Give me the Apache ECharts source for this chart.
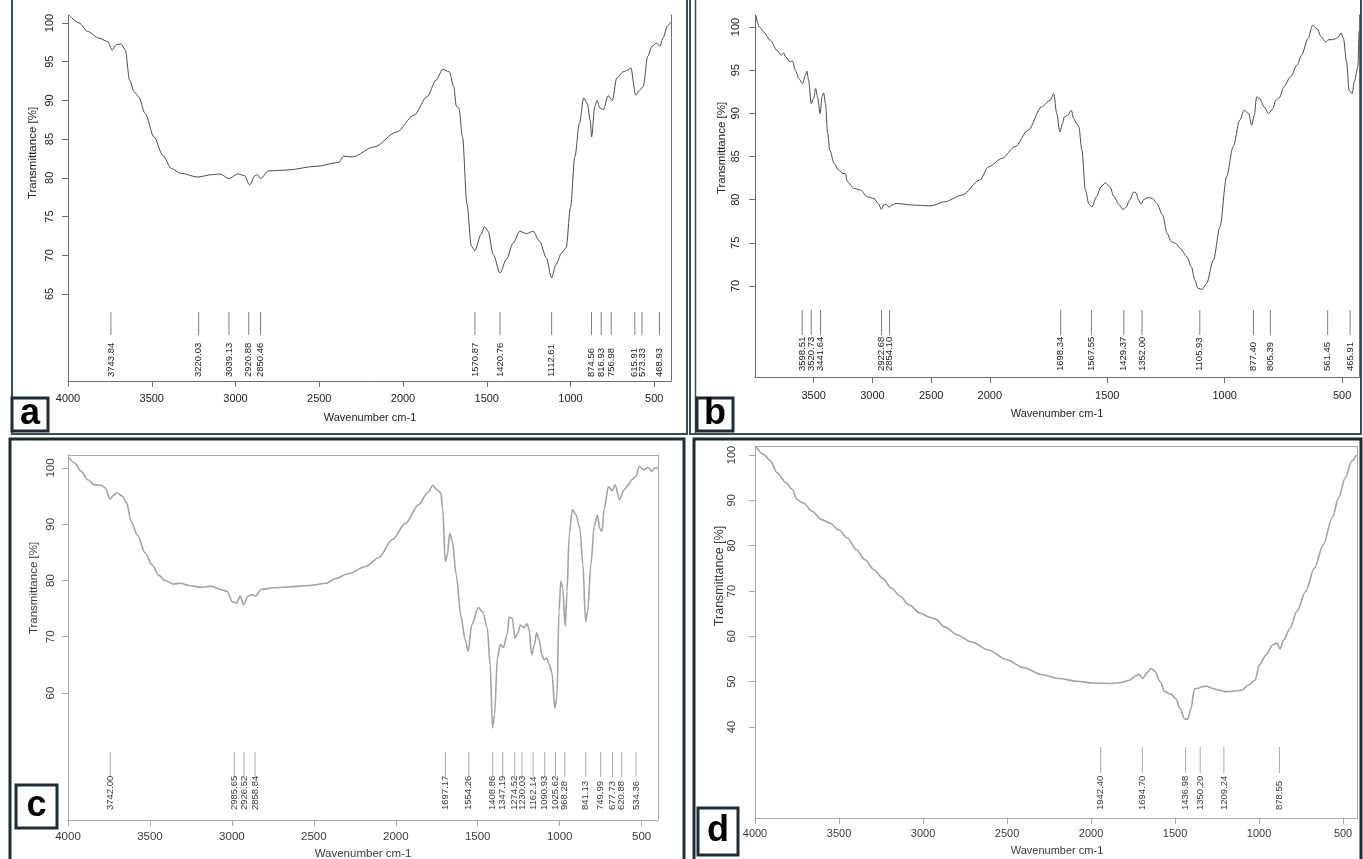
<!doctype html>
<html>
<head>
  <meta charset="UTF-8" />
  <title>FTIR spectra a-d</title>
  <script src="https://cdn.jsdelivr.net/npm/echarts@6/dist/echarts.min.js"></script>
  <style>
    html, body { margin: 0; padding: 0; background: #fff; }
    #chart { width: 1363px; height: 859px; }
  </style>
</head>
<body>
  <div id="chart"></div>
  <script>
    // ---- panel a ----
    const aWave = [3992,3934,3882,3816,3763,3737,3711,3684,3658,3632,3605,3579,3539,3487,3434,3382,3329,3224,3145,3092,3039,2987,2947,2916,2882,2868,2850,2803,2697,2513,2382,2355,2303,2171,2039,1934,1855,1803,1763,1724,1697,1682,1666,1645,1618,1592,1571,1534,1513,1492,1461,1421,1382,1342,1303,1263,1224,1184,1145,1113,1087,1053,1026,1000,974,947,921,900,882,874,855,842,824,803,776,750,724,684,658,640,611,587,566,539,513,487,466,447,421,403];
    const aTrans = [101.0,100.0,98.9,98.05,97.6,96.5,97.2,97.3,96.5,92.6,91.1,90.5,88.3,85.3,82.9,81.2,80.6,80.1,80.4,80.5,79.9,80.5,80.3,79.1,80.3,80.4,79.9,80.9,81.0,81.5,82.0,82.8,82.7,84.0,85.9,88.1,90.5,92.6,94.0,93.7,91.8,89.3,89.0,85.3,76.6,71.2,70.6,72.7,73.7,73.1,70.1,67.7,69.5,71.6,73.1,72.8,73.1,71.8,69.7,67.1,68.8,70.3,71.0,76.2,82.7,87.0,90.3,89.6,87.4,85.3,89.2,90.0,89.0,88.8,90.6,90.0,92.9,93.7,93.9,94.2,90.7,91.3,91.8,95.7,97.0,97.4,97.0,98.1,99.6,100.1];
    const aPeaks = [3743.84,3220.03,3039.13,2920.88,2850.46,1570.87,1420.76,1112.61,874.56,816.93,756.98,615.91,573.33,468.93];
    const aXTicks = [4000,3500,3000,2500,2000,1500,1000,500];
    const aYTicks = [65,70,75,80,85,90,95,100];

    // ---- panel b (scale halves above 2000 cm-1) ----
    const bWave = [3993,3963,3926,3869,3813,3776,3757,3738,3701,3682,3656,3626,3596,3570,3559,3543,3521,3502,3483,3468,3445,3430,3415,3400,3381,3363,3325,3288,3250,3231,3213,3156,3100,3044,2987,2950,2923,2905,2882,2856,2837,2800,2649,2499,2387,2237,2086,2011,1949,1893,1837,1780,1743,1728,1715,1702,1690,1683,1668,1653,1643,1630,1621,1608,1593,1578,1565,1546,1527,1508,1489,1471,1452,1433,1420,1405,1386,1377,1367,1356,1345,1326,1307,1289,1264,1245,1227,1208,1189,1161,1142,1127,1114,1095,1077,1048,1020,992,964,936,917,898,885,874,864,851,832,813,795,782,767,748,720,692,673,645,626,607,588,570,556,541,528,517,504,494,481,470,457,448,433,428];
    const bTrans = [101.35,100.0,99.42,98.46,97.30,96.72,96.99,96.53,95.95,96.07,94.99,94.02,93.44,94.41,94.91,93.83,91.13,91.71,92.87,91.90,89.97,91.90,92.36,91.13,87.66,85.73,84.19,83.42,83.03,83.03,82.07,81.30,81.10,80.33,80.14,79.56,78.87,79.37,79.48,79.10,79.37,79.56,79.37,79.29,79.75,80.52,82.26,83.80,84.77,86.12,88.04,90.74,91.52,92.29,89.97,87.85,88.82,89.59,89.78,90.36,89.39,88.82,88.43,85.73,81.10,79.48,79.17,80.33,81.49,81.95,81.49,80.33,79.48,78.87,79.10,79.95,80.91,80.79,79.95,79.48,80.02,80.25,80.14,79.56,78.21,76.09,75.13,74.93,74.35,73.39,72.23,70.69,69.73,69.61,70.30,73.00,76.86,82.65,86.12,89.20,90.36,89.97,88.62,89.78,91.90,91.71,90.74,89.97,90.55,91.52,91.82,93.06,94.22,95.57,96.72,98.65,100.19,99.81,98.84,98.26,98.53,98.53,98.65,98.84,99.31,98.65,95.95,92.67,92.29,93.64,95.37,99.5];
    const bPeaks = [3598.51,3520.73,3441.64,2922.68,2854.10,1698.34,1567.55,1429.37,1352.00,1105.93,877.40,805.39,561.45,465.91];
    const bXTicks = [3500,3000,2500,2000,1500,1000,500];
    const bYTicks = [70,75,80,85,90,95,100];

    // ---- panel c ----
    const cWave = [3992,3960,3919,3879,3838,3793,3771,3744,3723,3701,3669,3642,3615,3577,3529,3488,3448,3408,3362,3313,3260,3192,3125,3071,3031,2996,2972,2950,2928,2902,2877,2856,2823,2748,2640,2533,2425,2371,2290,2183,2102,2021,1940,1860,1806,1774,1747,1725,1714,1698,1685,1671,1655,1631,1604,1577,1558,1537,1496,1469,1442,1424,1410,1397,1380,1362,1343,1321,1308,1289,1273,1254,1240,1219,1200,1187,1171,1154,1141,1125,1109,1095,1079,1063,1047,1030,1017,1004,993,982,966,955,942,923,901,877,858,842,829,810,788,769,756,742,729,702,680,662,635,608,581,560,535,514,487,460,438,420,401];
    const cTrans = [101.8,100.9,99.4,97.9,97.0,96.9,96.4,94.5,95.1,95.6,95.0,93.8,90.5,88.1,84.9,82.8,81.0,80.0,79.4,79.5,79.1,78.8,79.0,78.4,78.1,76.2,76.0,77.2,75.7,77.2,77.5,77.2,78.4,78.7,78.9,79.1,79.5,80.3,81.2,82.5,84.1,87.3,90.2,93.5,95.6,96.9,96.1,95.6,92.9,83.4,84.6,88.4,87.0,81.0,73.9,69.5,67.4,72.1,75.2,74.4,71.6,65.0,53.8,56.1,66.2,68.6,68.1,70.4,73.5,73.3,69.8,70.7,72.1,71.6,72.3,71.4,66.8,68.6,70.7,69.5,66.8,65.9,66.2,65.0,63.6,57.3,59.1,74.5,79.9,78.7,71.9,78.1,88.1,92.6,91.7,89.3,82.8,72.7,74.5,82.8,89.9,91.6,89.3,88.7,92.6,96.7,96.0,97.0,94.4,96.1,97.0,97.9,98.5,100.3,99.7,100.1,99.4,100.0,100.0];
    const cPeaks = [3742.00,2985.65,2926.52,2858.84,1697.17,1554.26,1408.86,1347.19,1274.52,1230.03,1162.14,1090.93,1025.62,968.28,841.13,749.99,677.73,620.88,534.36];
    const cXTicks = [4000,3500,3000,2500,2000,1500,1000,500];
    const cYTicks = [60,70,80,90,100];

    // ---- panel d ----
    const dWave = [3995,3948,3908,3869,3816,3777,3751,3712,3659,3607,3554,3502,3449,3397,3345,3292,3240,3187,3135,3082,3017,2951,2925,2873,2794,2715,2610,2506,2401,2296,2191,2086,1981,1876,1824,1772,1732,1714,1693,1667,1641,1620,1588,1562,1523,1496,1470,1444,1425,1405,1384,1365,1339,1313,1274,1234,1200,1155,1103,1064,1024,998,958,919,893,875,854,815,775,723,670,618,565,526,487,447,421];
    const dTrans = [101.9,100.1,98.7,96.1,93.9,92.4,90.2,89.4,87.6,85.8,85.0,83.5,81.7,79.1,76.9,74.7,72.8,70.6,68.8,66.9,65.1,64.1,63.8,62.1,60.3,58.8,57.0,54.9,53.1,51.6,50.7,50.1,49.7,49.6,49.8,50.3,51.3,51.6,50.7,52.0,52.9,52.3,50.0,47.8,47.2,46.3,44.1,41.8,41.7,44.1,48.5,48.5,48.9,49.0,48.5,48.1,47.8,47.9,48.1,49.2,50.3,53.7,55.9,58.1,58.5,57.2,59.2,61.8,65.5,69.9,75.1,80.2,86.1,90.6,95.0,98.7,100.0];
    const dPeaks = [1942.40,1694.70,1436.98,1350.20,1209.24,878.55];
    const dXTicks = [4000,3500,3000,2500,2000,1500,1000,500];
    const dYTicks = [40,50,60,70,80,90,100];

    const FONT = '"Liberation Sans", Arial, Helvetica, sans-serif';
    const same = w => w;
    // panel b axis: 4000-2000 drawn at half the scale of 2000-400
    const bx = w => (w > 2000 ? 2000 + (w - 2000) / 2 : w);
    const bxInv = x => (x > 2000 ? 2000 + (x - 2000) * 2 : x);

    const dark = { curve: '#4a4a4a', curveW: 1, axis: '#6e6e6e', text: '#222', peak: '#808080' };
    const light = { curve: '#a3a3a3', curveW: 1.6, axis: '#a8a8a8', text: '#3a3a3a', peak: '#ababab' };

    const panels = [
      { wave: aWave, trans: aTrans, peaks: aPeaks, xTicks: aXTicks, yTicks: aYTicks, xf: same, xInv: same,
        grid: { left: 68, top: 15, width: 603, height: 366 }, xMin: 400, xMax: 4000, yMin: 53.76, yMax: 101.03,
        topLine: false, st: dark, fs: 11, xMargin: 12, yMargin: 13, mark: { top: 69, bottom: 46, label: 4 } },
      { wave: bWave, trans: bTrans, peaks: bPeaks, xTicks: bXTicks, yTicks: bYTicks, xf: bx, xInv: bxInv,
        grid: { left: 755, top: 15, width: 604, height: 362 }, xMin: 428, xMax: 3000, yMin: 59.46, yMax: 101.39,
        topLine: false, st: dark, fs: 11, xMargin: 13, yMargin: 14, mark: { top: 67, bottom: 42, label: 6 } },
      { wave: cWave, trans: cTrans, peaks: cPeaks, xTicks: cXTicks, yTicks: cYTicks, xf: same, xInv: same,
        grid: { left: 68, top: 455, width: 590, height: 365 }, xMin: 400, xMax: 4000, yMin: 37.42, yMax: 102.31,
        topLine: true, st: light, fs: 11.5, xMargin: 11, yMargin: 11, mark: { top: 68, bottom: 43, label: 10 } },
      { wave: dWave, trans: dTrans, peaks: dPeaks, xTicks: dXTicks, yTicks: dYTicks, xf: same, xInv: same,
        grid: { left: 755, top: 446, width: 602, height: 372 }, xMin: 417, xMax: 4000, yMin: 19.93, yMax: 101.99,
        topLine: true, st: light, fs: 11, xMargin: 10, yMargin: 18, mark: { top: 71, bottom: 45, label: 8 } }
    ];

    const grids = [], xAxes = [], yAxes = [], series = [];
    panels.forEach((p, i) => {
      const st = p.st;
      const line = { color: st.axis, width: 1 };
      grids.push(p.grid);
      const xt = p.xTicks.map(p.xf);
      xAxes.push({
        gridIndex: i, type: 'value', inverse: true, position: 'bottom', min: p.xMin, max: p.xMax,
        axisLine: { show: true, onZero: false, lineStyle: line },
        axisTick: { show: true, length: 6, customValues: xt, lineStyle: line },
        axisLabel: { customValues: xt, margin: p.xMargin, fontSize: p.fs, color: st.text, fontFamily: FONT,
          formatter: v => String(Math.round(p.xInv(v))) },
        splitLine: { show: false }
      });
      xAxes.push({
        gridIndex: i, type: 'value', position: 'top', min: 0, max: 1,
        axisLine: { show: p.topLine, onZero: false, lineStyle: line },
        axisTick: { show: false }, axisLabel: { show: false }, splitLine: { show: false }
      });
      yAxes.push({
        gridIndex: i, type: 'value', position: 'left', min: p.yMin, max: p.yMax,
        axisLine: { show: true, onZero: false, lineStyle: line },
        axisTick: { show: true, length: 6, customValues: p.yTicks, lineStyle: line },
        axisLabel: { customValues: p.yTicks, rotate: 90, margin: p.yMargin, fontSize: p.fs, color: st.text, fontFamily: FONT },
        splitLine: { show: false }
      });
      yAxes.push({
        gridIndex: i, type: 'value', position: 'right', min: 0, max: 1,
        axisLine: { show: true, onZero: false, lineStyle: line },
        axisTick: { show: false }, axisLabel: { show: false }, splitLine: { show: false }
      });

      series.push({
        type: 'line', xAxisIndex: 2 * i, yAxisIndex: 2 * i,
        data: p.wave.map((w, k) => [p.xf(w), p.trans[k]]),
        showSymbol: false, smooth: 0.3, smoothMonotone: 'x', silent: true,
        lineStyle: { color: st.curve, width: st.curveW }
      });

      // peak marker ticks with rotated wavenumber labels
      series.push({
        type: 'custom', xAxisIndex: 2 * i, yAxisIndex: 2 * i, clip: false, silent: true,
        data: p.peaks.map(w => [p.xf(w), p.yMin]),
        encode: { x: 0, y: 1 },
        renderItem: (params, api) => {
          const pt = api.coord([api.value(0), p.yMin]);
          return {
            type: 'group',
            children: [
              { type: 'line', shape: { x1: pt[0], y1: pt[1] - p.mark.top, x2: pt[0], y2: pt[1] - p.mark.bottom },
                style: { stroke: st.peak, lineWidth: 1 } },
              { type: 'text', x: pt[0], y: pt[1] - p.mark.label, rotation: Math.PI / 2,
                style: { text: p.peaks[params.dataIndex].toFixed(2), fontSize: 9.5, fontFamily: FONT,
                  fill: st.text, align: 'left', verticalAlign: 'middle' } }
            ]
          };
        }
      });
    });

    const FRAME = '#1d2c37';
    function title(x, y, text, rot, fs, color) {
      return { type: 'text', x: x, y: y, rotation: rot ? Math.PI / 2 : 0, z: 50,
        style: { text: text, fontSize: fs, fontFamily: FONT, fill: color, align: 'center', verticalAlign: 'middle' } };
    }
    function frame(x, y, w, h, lw, color) {
      return { type: 'rect', shape: { x: x, y: y, width: w, height: h }, z: 60,
        style: { fill: 'none', stroke: color, lineWidth: lw } };
    }
    function tag(x, y, w, h, letter) {
      return [
        { type: 'rect', shape: { x: x, y: y, width: w, height: h }, z: 100,
          style: { fill: '#fff', stroke: FRAME, lineWidth: 3 } },
        { type: 'text', x: x + w / 2, y: y + h / 2, z: 101,
          style: { text: letter, fontSize: 36, fontWeight: 'bold', fontFamily: FONT, fill: '#000',
            align: 'center', verticalAlign: 'middle' } }
      ];
    }

    const graphics = [
      frame(12, -3, 675, 437, 2, '#34505f'),
      frame(690, -3, 671, 437, 2, '#34505f'),
      { type: 'line', z: 60, shape: { x1: 695.5, y1: 0, x2: 695.5, y2: 434 }, style: { stroke: '#34505f', lineWidth: 1.5 } },
      frame(10, 439, 674, 425, 3, FRAME),
      frame(694, 439, 667, 425, 3, FRAME),
      title(370, 418, 'Wavenumber cm-1', false, 11, '#222'),
      title(33, 153, 'Transmittance [%]', true, 11.5, '#222'),
      title(1057, 414, 'Wavenumber cm-1', false, 11, '#222'),
      title(722, 148, 'Transmittance [%]', true, 11.5, '#222'),
      title(363, 854, 'Wavenumber cm-1', false, 11.5, '#3a3a3a'),
      title(34, 588, 'Transmittance [%]', true, 11.5, '#3a3a3a'),
      title(1057, 851, 'Wavenumber cm-1', false, 11, '#3a3a3a'),
      title(720, 576, 'Transmittance [%]', true, 12.5, '#3a3a3a')
    ]
      .concat(tag(12, 398, 36, 33, 'a'))
      .concat(tag(697, 398, 36, 33, 'b'))
      .concat(tag(16, 785, 41, 43, 'c'))
      .concat(tag(698, 808, 40, 47, 'd'));

    const chart = echarts.init(document.getElementById('chart'), null, { renderer: 'canvas' });
    chart.setOption({
      animation: false,
      backgroundColor: '#fff',
      grid: grids,
      xAxis: xAxes,
      yAxis: yAxes,
      series: series,
      graphic: graphics
    });
  </script>
</body>
</html>
